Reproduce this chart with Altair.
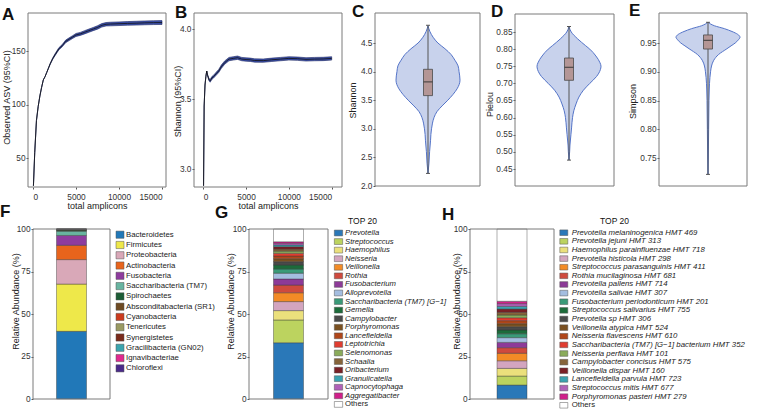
import altair as alt
import pandas as pd

FONT = "Liberation Sans"
FRAME = "#7a7a7a"
W, H = 760, 410

# ---------------- rarefaction: observed ASVs ----------------
depth_a = [50, 200, 400, 600, 800, 1000, 1200, 1400, 1600, 1800, 2000, 2300, 2600, 3000, 3400,
           3800, 4200, 4600, 5000, 5500, 6000, 6500, 7000, 7500, 8000, 8500, 9000, 10000, 11000,
           12000, 13000, 14000, 15000]
asv_mean = [24, 55, 85, 98, 108, 116, 123, 126, 130, 134, 138, 143, 147, 152, 155,
            159, 161, 163, 165, 166, 167.5, 169, 170.5, 172, 174, 175, 175.2, 175.5, 175.8,
            176, 176.3, 176.5, 176.6]
asv_ci = [0, 0, 0, 0, 0, 0, 0, 0, 0, 0.3, 0.5, 0.7, 0.9, 1.0, 1.1,
          1.2, 1.3, 1.3, 1.4, 1.4, 1.5, 1.5, 1.5, 1.6, 1.6, 1.6, 1.7, 1.7, 1.7,
          1.8, 1.8, 1.8, 1.8]

# ---------------- rarefaction: Shannon ----------------
depth_b = [30, 100, 200, 300, 400, 500, 650, 800, 1000, 1200, 1500, 1800, 2100, 2500, 3000,
           3500, 4000, 4500, 5000, 5500, 6000, 7000, 8000, 9000, 10000, 11000, 12000, 13000,
           14000, 15000]
shannon_mean = [2.88, 3.45, 3.6, 3.66, 3.7, 3.67, 3.64, 3.63, 3.65, 3.66,
                3.68, 3.7, 3.73, 3.76, 3.785, 3.79, 3.795, 3.785, 3.782, 3.78,
                3.775, 3.774, 3.78, 3.785, 3.79, 3.788, 3.783, 3.785, 3.786, 3.79]
shannon_ci = [0, 0, 0, 0, 0, 0.005, 0.008, 0.01, 0.01, 0.01,
              0.011, 0.011, 0.012, 0.012, 0.012, 0.012, 0.012, 0.012, 0.012, 0.012,
              0.012, 0.012, 0.012, 0.012, 0.012, 0.012, 0.012, 0.012, 0.012, 0.012]

# ---------------- alpha-diversity violins (relative density) ----------------
shannon_lvl = [2.22, 2.4, 2.6, 2.8, 2.9, 3.0, 3.1, 3.2, 3.3, 3.4, 3.5, 3.6, 3.7, 3.85, 4.0,
               4.1, 4.2, 4.3, 4.4, 4.5, 4.6, 4.7, 4.8]
shannon_den = [0, 0.03, 0.05, 0.08, 0.09, 0.11, 0.14, 0.19, 0.28, 0.44, 0.62, 0.78, 0.91, 1.0,
               0.97, 0.94, 0.84, 0.72, 0.53, 0.31, 0.16, 0.06, 0]
shannon_box = {"lo": 2.22, "q1": 3.58, "med": 3.82, "q3": 4.04, "hi": 4.81}

pielou_lvl = [0.476, 0.50, 0.52, 0.55, 0.57, 0.60, 0.62, 0.64, 0.66, 0.68, 0.70, 0.72, 0.74,
              0.75, 0.76, 0.78, 0.80, 0.81, 0.83, 0.85, 0.866]
pielou_den = [0, 0.02, 0.03, 0.06, 0.08, 0.11, 0.15, 0.22, 0.31, 0.45, 0.65, 0.86, 0.98, 1.0,
              0.97, 0.84, 0.65, 0.52, 0.27, 0.07, 0]
pielou_box = {"lo": 0.476, "q1": 0.709, "med": 0.747, "q3": 0.774, "hi": 0.866}

simpson_lvl = [0.7215, 0.75, 0.80, 0.85, 0.87, 0.89, 0.90, 0.91, 0.92, 0.93, 0.94, 0.945,
               0.95, 0.955, 0.96, 0.965, 0.97, 0.975, 0.98, 0.986]
simpson_den = [0, 0.01, 0.02, 0.03, 0.04, 0.06, 0.08, 0.11, 0.18, 0.33, 0.59, 0.72, 0.85,
               0.94, 1.0, 0.93, 0.75, 0.51, 0.2, 0]
simpson_box = {"lo": 0.7215, "q1": 0.9395, "med": 0.9547, "q3": 0.964, "hi": 0.986}

# ---------------- composition: phyla ----------------
phyla = ["Bacteroidetes", "Firmicutes", "Proteobacteria", "Actinobacteria", "Fusobacteria",
         "Saccharibacteria (TM7)", "Spirochaetes", "Absconditabacteria (SR1)", "Cyanobacteria",
         "Tenericutes", "Synergistetes", "Gracilibacteria (GN02)", "Ignavibacteriae", "Chloroflexi"]
phyla_pct = [39.8, 27.8, 14.4, 8.4, 5.8, 2.5, 0.6, 0.25, 0.15, 0.1, 0.08, 0.06, 0.03, 0.03]
phyla_col = ["#2178b8", "#eee84a", "#d9a8b8", "#e8641c", "#8e3c9e", "#68b4a0", "#1c5c35",
             "#6e4a22", "#cc3b1e", "#9a9a62", "#7a2a1a", "#3aa4ae", "#e0298e", "#4a2a8a"]

# ---------------- composition: top 20 genera ----------------
genera = ["Prevotella", "Streptococcus", "Haemophilus", "Neisseria", "Veillonella", "Rothia",
          "Fusobacterium", "Alloprevotella", "Saccharibacteria (TM7) [G\u22121]", "Gemella",
          "Campylobacter", "Porphyromonas", "Lancefieldella", "Leptotrichia", "Selenomonas",
          "Schaalia", "Oribacterium", "Granulicatella", "Capnocytophaga", "Aggregatibacter",
          "Others"]
genera_pct = [33.1, 13.4, 5.5, 5.3, 5.2, 4.5, 3.6, 3.4, 2.5, 2.3, 2.0, 1.7, 1.6, 1.6, 1.3,
              1.2, 1.4, 1.0, 1.0, 0.9, 7.5]

# ---------------- composition: top 20 species ----------------
species = ["Prevotella melaninogenica HMT 469", "Prevotella jejuni HMT 313",
           "Haemophilus parainfluenzae HMT 718", "Prevotella histicola HMT 298",
           "Streptococcus parasanguinis HMT 411", "Rothia mucilaginosa HMT 681",
           "Prevotella pallens HMT 714", "Prevotella salivae HMT 307",
           "Fusobacterium periodonticum HMT 201", "Streptococcus salivarius HMT 755",
           "Prevotella sp HMT 306", "Veillonella atypica HMT 524",
           "Neisseria flavescens HMT 610", "Saccharibacteria (TM7) [G\u22121] bacterium HMT 352",
           "Neisseria perflava HMT 101", "Campylobacter concisus HMT 575",
           "Veillonella dispar HMT 160", "Lancefieldella parvula HMT 723",
           "Streptococcus mitis HMT 677", "Porphyromonas pasteri HMT 279", "Others"]
species_pct = [8.2, 5.3, 4.5, 4.5, 4.4, 3.3, 3.1, 2.8, 2.3, 2.2, 1.9, 1.8, 1.8, 1.7, 1.6,
               1.6, 1.9, 1.6, 1.6, 1.4, 42.5]

top20_col = ["#2a78b8", "#bcd35f", "#ebe07c", "#d3a5bf", "#f38b26", "#cf4a3e", "#8d3a98",
             "#a4bde0", "#3a9a78", "#1c6b3a", "#4a4a4a", "#7a5020", "#b0461a", "#e03c30",
             "#8aab5a", "#86643a", "#7a1f25", "#3aa2b0", "#b060b8", "#d0208a", "#ffffff"]

# ---------------- page layout (pixels): panel frames (left, top, right, bottom) ----------------
BOX = {"A": (28, 13, 166, 187), "B": (194, 13, 342, 187), "C": (375, 13, 480, 186),
       "D": (515, 14, 614, 186), "E": (659, 13, 747, 186),
       "F": (33, 229, 110, 399), "G": (249, 229, 328, 399), "H": (470, 229, 554, 399)}
ONE = pd.DataFrame({"k": [0]})


def yaxis(p, values, fmt, title, tx, ty):
    left = BOX[p][0]
    return alt.Axis(orient="left", offset=-left, values=values, format=fmt, title=title,
                    titleX=tx - left, titleY=ty, titleAngle=270, titleAlign="center",
                    titleBaseline="middle", labelPadding=1)


def xaxis(p, title, tx, ty):
    bottom = BOX[p][3]
    return alt.Axis(orient="bottom", offset=bottom - H, values=[0, 5000, 10000, 15000],
                    format="d", title=title, titleX=tx, titleY=ty - bottom,
                    titleAlign="center", titleBaseline="alphabetic", labelPadding=3)


def frame(p):
    l, t, r, b = BOX[p]
    return alt.Chart(ONE).mark_rect(fillOpacity=0, stroke=FRAME, strokeWidth=1).encode(
        x=alt.value(l), x2=alt.value(r), y=alt.value(t), y2=alt.value(b))


def text(label, x, y, size, weight="normal", style="normal"):
    return alt.Chart(pd.DataFrame({"t": [label]})).mark_text(
        align="left", baseline="alphabetic", fontSize=size, fontWeight=weight,
        fontStyle=style, font=FONT, color="#111111"
    ).encode(text="t:N", x=alt.value(x), y=alt.value(y))


def rarefaction(p, depth, mean, ci, ydom, yrange, yvals, yfmt, ytitle, ttx, tty, xrange):
    df = pd.DataFrame({"depth": depth, "est": mean,
                       "lo": [m - c for m, c in zip(mean, ci)],
                       "hi": [m + c for m, c in zip(mean, ci)]})
    xs = alt.Scale(domain=[0, 15000], range=xrange, nice=False, zero=False)
    ys = alt.Scale(domain=ydom, range=yrange, nice=False, zero=False)
    band = alt.Chart(df).mark_area(color="#3b4fa8", stroke="#1d2660",
                                   strokeWidth=0.6).encode(
        x=alt.X("depth:Q", scale=xs, axis=None),
        y=alt.Y("lo:Q", scale=ys, axis=None), y2="hi:Q")
    line = alt.Chart(df).mark_line(color="#111111", strokeWidth=0.8).encode(
        x=alt.X("depth:Q", scale=xs,
                axis=xaxis(p, "total amplicons", (BOX[p][0] + BOX[p][2]) / 2, 208)),
        y=alt.Y("est:Q", scale=ys, axis=yaxis(p, yvals, yfmt, ytitle, ttx, tty)))
    return [frame(p), band, line]


def violin(p, lvl, den, box, ydom, yrange, yvals, yfmt, ytitle, ttx, tty, cx):
    vdf = pd.DataFrame({"v": lvl, "d": den})
    vdf["nd"] = -vdf["d"]
    xs = alt.Scale(domain=[-1, 1], range=[cx - 32, cx + 32], nice=False, zero=False)
    ys = alt.Scale(domain=ydom, range=yrange, nice=False, zero=False)
    body = alt.Chart(vdf).mark_area(orient="horizontal", fill="#c8d2ec", stroke="#5474c8",
                                    strokeWidth=1, interpolate="monotone").encode(
        y=alt.Y("v:Q", scale=ys, axis=yaxis(p, yvals, yfmt, ytitle, ttx, tty)),
        x=alt.X("nd:Q", scale=xs, axis=None), x2="d:Q")
    half = 4.5 / 32   # box half-width, as a share of the widest violin section
    cap = 2.0 / 32
    bdf = pd.DataFrame([box])
    bdf["c"] = 0.0
    bdf["bl"], bdf["br"] = -half, half
    bdf["cl"], bdf["cr"] = -cap, cap
    bx = alt.Chart(bdf)
    whisker = bx.mark_rule(color="#555555", strokeWidth=1).encode(
        x=alt.X("c:Q", scale=xs, axis=None), y=alt.Y("lo:Q", scale=ys, axis=None), y2="hi:Q")
    cap_top = bx.mark_rule(color="#555555", strokeWidth=1).encode(
        x=alt.X("cl:Q", scale=xs, axis=None), x2="cr:Q", y=alt.Y("hi:Q", scale=ys, axis=None))
    cap_bot = bx.mark_rule(color="#555555", strokeWidth=1).encode(
        x=alt.X("cl:Q", scale=xs, axis=None), x2="cr:Q", y=alt.Y("lo:Q", scale=ys, axis=None))
    rect = bx.mark_rect(fill="#b49696", stroke="#4a4a4a", strokeWidth=0.8).encode(
        x=alt.X("bl:Q", scale=xs, axis=None), x2="br:Q",
        y=alt.Y("q1:Q", scale=ys, axis=None), y2="q3:Q")
    med = bx.mark_rule(color="#3a3a3a", strokeWidth=1).encode(
        x=alt.X("bl:Q", scale=xs, axis=None), x2="br:Q", y=alt.Y("med:Q", scale=ys, axis=None))
    return [frame(p), body, whisker, cap_top, cap_bot, rect, med]


def stacked(p, names, pct, colors, ttx, tty):
    l, t, r, b = BOX[p]
    df = pd.DataFrame({"taxon": names, "pct": pct, "rank": list(range(len(names))),
                       "grp": ["all"] * len(names)})
    bars = alt.Chart(df).mark_bar(size=30, stroke="#333333", strokeWidth=0.4).encode(
        x=alt.X("grp:N", scale=alt.Scale(range=[l, r], paddingInner=0, paddingOuter=0),
                axis=None),
        y=alt.Y("pct:Q", stack="zero",
                scale=alt.Scale(domain=[0, 100], range=[b, t], nice=False, zero=False),
                axis=yaxis(p, [0, 25, 50, 75, 100], "d", "Relative Abundance (%)", ttx, tty)),
        fill=alt.Fill("taxon:N", scale=alt.Scale(domain=names, range=colors), legend=None),
        order=alt.Order("rank:Q"))
    return [bars, frame(p)]


def key(names, colors, x_sw, x_lab, y0, step, path, size, fsize, italic):
    """Swatch-and-label key, one row per taxon."""
    n = len(names)
    df = pd.DataFrame({"taxon": names, "rank": list(range(n))})
    ys = alt.Scale(domain=[0, n - 1], range=[y0, y0 + (n - 1) * step], nice=False, zero=False)
    sw = alt.Chart(df).mark_point(shape=path, filled=True, size=size, stroke="#555555",
                                  strokeWidth=0.5, opacity=1).encode(
        x=alt.value(x_sw), y=alt.Y("rank:Q", scale=ys, axis=None),
        fill=alt.Fill("taxon:N", scale=alt.Scale(domain=names, range=colors), legend=None))
    style = "italic" if italic else "normal"
    lab = alt.Chart(df).transform_filter("datum.taxon != 'Others'").mark_text(
        align="left", baseline="middle", fontSize=fsize, fontStyle=style, font=FONT,
        color="#222222").encode(
        x=alt.value(x_lab), y=alt.Y("rank:Q", scale=ys, axis=None), text="taxon:N")
    other = alt.Chart(df).transform_filter("datum.taxon == 'Others'").mark_text(
        align="left", baseline="middle", fontSize=fsize, font=FONT, color="#222222").encode(
        x=alt.value(x_lab), y=alt.Y("rank:Q", scale=ys, axis=None), text="taxon:N")
    return [sw, lab, other]


layers = []
layers += rarefaction("A", depth_a, asv_mean, asv_ci, [50, 150], [158, 51], [50, 100, 150], "d",
                      "Observed ASV (95%CI)", 6.5, 97, [33, 162])
layers += rarefaction("B", depth_b, shannon_mean, shannon_ci, [3.0, 4.0], [169, 29],
                      [3.0, 3.5, 4.0], ".1f", "Shannon (95%CI)", 177.5, 101, [203.3, 331.7])
layers += violin("C", shannon_lvl, shannon_den, shannon_box, [2.0, 4.5], [186, 43],
                 [2.0, 2.5, 3.0, 3.5, 4.0, 4.5], ".1f", "Shannon", 352.5, 100, 428)
layers += violin("D", pielou_lvl, pielou_den, pielou_box, [0.45, 0.85], [169, 32],
                 [0.45, 0.50, 0.55, 0.60, 0.65, 0.70, 0.75, 0.80, 0.85], ".2f", "Pielou",
                 489.5, 104, 569)
layers += violin("E", simpson_lvl, simpson_den, simpson_box, [0.75, 0.95], [158, 43],
                 [0.75, 0.80, 0.85, 0.90, 0.95], ".2f", "Simpson", 632, 101, 708)

layers += stacked("F", phyla, phyla_pct, phyla_col, 15, 301)
layers += stacked("G", genera, genera_pct, top20_col, 230, 301)
layers += stacked("H", species, species_pct, top20_col, 456.7, 301)

layers += key(phyla, phyla_col, 120, 126, 234.7, 10.28, "M-1,-0.9H1V0.9H-1Z", 64, 7.8, False)
layers += key(genera, top20_col, 338.5, 345, 233, 8.57, "M-1,-0.7H1V0.7H-1Z", 69, 7.7, True)
layers += key(species, top20_col, 563.8, 571.7, 232.7, 8.63, "M-1,-0.7H1V0.7H-1Z", 64, 7.8, True)

for tag, x, y in [("A", 2, 20), ("B", 175, 18), ("C", 352, 17), ("D", 491, 17), ("E", 629, 16),
                  ("F", 0, 217), ("G", 215, 218), ("H", 442, 220)]:
    layers.append(text(tag, x, y, 17, weight="bold"))
layers.append(text("TOP 20", 348, 224, 8.5))
layers.append(text("TOP 20", 600, 224.3, 8.5))

chart = alt.layer(*layers).resolve_scale(
    x="independent", y="independent", fill="independent"
).resolve_axis(
    x="independent", y="independent"
).properties(
    width=W, height=H, padding=0, autosize=alt.AutoSizeParams(type="none")
).configure(font=FONT).configure_view(
    stroke=None
).configure_axis(
    labelFont=FONT, labelFontSize=8.3, labelColor="#333333",
    titleFont=FONT, titleFontSize=9, titleFontWeight="normal", titleColor="#222222",
    tickColor="#555555", tickSize=2, domain=False, grid=False
)

chart.save("out.html", embed_options={"renderer": "svg", "actions": False})
